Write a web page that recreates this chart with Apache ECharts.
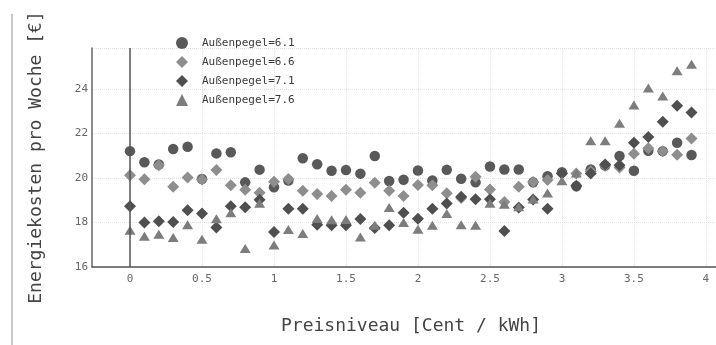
<!DOCTYPE html>
<html><head><meta charset="utf-8">
<script src="https://cdn.jsdelivr.net/npm/echarts@6/dist/echarts.min.js"></script>
<style>html,body{margin:0;padding:0;background:#fff}#c{width:716px;height:345px}</style>
</head><body><div id="c"></div>
<script>
const priceLevels = [0,0.1,0.2,0.3,0.4,0.5,0.6,0.7,0.8,0.9,1.0,1.1,1.2,1.3,1.4,1.5,1.6,1.7,1.8,1.9,2.0,2.1,2.2,2.3,2.4,2.5,2.6,2.7,2.8,2.9,3.0,3.1,3.2,3.3,3.4,3.5,3.6,3.7,3.8,3.9];
const seriesNames = ['Außenpegel=6.1','Außenpegel=6.6','Außenpegel=7.1','Außenpegel=7.6'];
const cost61 = [21.2,20.7,20.6,21.3,21.4,19.95,21.1,21.15,19.8,20.37,19.58,19.88,20.88,20.61,20.32,20.35,20.19,20.98,19.86,19.92,20.33,19.88,20.36,19.96,19.8,20.51,20.38,20.38,19.8,20.07,20.25,19.62,20.38,20.55,20.98,20.32,21.22,21.2,21.58,21.03];
const cost66 = [20.12,19.94,20.57,19.6,20.02,19.93,20.35,19.67,19.47,19.33,19.83,19.95,19.42,19.28,19.19,19.47,19.33,19.78,19.42,19.19,19.68,19.67,19.31,19.1,20.05,19.48,18.92,19.6,19.82,19.9,20.2,20.2,20.3,20.55,20.47,21.08,21.33,21.2,21.04,21.77];
const cost71 = [18.73,18.0,18.05,18.02,18.55,18.4,17.77,18.73,18.68,19.02,17.57,18.62,18.62,17.9,17.87,17.87,18.15,17.75,17.87,18.43,18.17,18.62,18.85,19.15,19.04,19.04,17.62,18.67,19.03,18.62,20.2,19.65,20.2,20.6,20.57,21.58,21.84,22.52,23.24,22.93];
const cost76 = [17.65,17.38,17.47,17.32,17.9,17.25,18.17,18.43,16.83,18.86,16.99,17.68,17.5,18.18,18.12,18.13,17.35,17.87,18.67,18.0,17.69,17.87,18.4,17.9,17.87,18.86,18.82,18.7,19.05,19.32,19.87,20.22,21.67,21.67,22.45,23.27,24.03,23.68,24.81,25.1];
const xTickValues = [0,0.5,1,1.5,2,2.5,3,3.5,4];
const yTickValues = [16,18,20,22,24];

const FONT = 'DejaVu Sans Mono';
const pairs = ys => priceLevels.map((x, i) => [x, ys[i]]);
const styles = [
  {symbol:'circle', size:10.5, color:'#595959'},
  {symbol:'diamond', size:12, color:'#8e8e8e'},
  {symbol:'diamond', size:12, color:'#4f4f4f'},
  {symbol:'triangle', size:[11,9], color:'#7d7d7d'}
];
const allData = [cost61, cost66, cost71, cost76];

const chart = echarts.init(document.getElementById('c'), null, {renderer:'canvas'});
const series = allData.map((d, i) => ({
  name: seriesNames[i],
  type: 'scatter',
  data: pairs(d),
  symbol: styles[i].symbol,
  symbolSize: styles[i].size,
  itemStyle: {color: styles[i].color, opacity: 1},
  emphasis: {disabled: true},
  animation: false
}));
series[0].markLine = {
  silent: true, symbol: ['none','none'], label: {show:false},
  lineStyle: {color:'#555', width:1.5, type:'solid'},
  data: [{xAxis: 0}], animation: false
};

chart.setOption({
  animation: false,
  backgroundColor: '#fff',
  grid: {left: 92, right: 0, top: 48, bottom: 78, containLabel: false},
  legend: {
    left: 171, top: 32, orient: 'vertical',
    itemWidth: 12, itemHeight: 12, itemGap: 7,
    data: seriesNames,
    textStyle: {fontFamily: FONT, fontSize: 11, color: '#3a3a3a', padding: [0,0,0,9]},
    selectedMode: false
  },
  xAxis: {
    type: 'value', min: -0.264, max: 4.07,
    name: 'Preisniveau [Cent / kWh]', nameLocation: 'middle', nameGap: 50,
    nameTextStyle: {fontFamily: FONT, fontSize: 18, color: '#444', padding: [0,0,0,14]},
    axisLine: {show: true, onZero: false, lineStyle: {color: '#555', width: 1.5}},
    axisTick: {show: false, customValues: xTickValues},
    axisLabel: {customValues: xTickValues, fontFamily: FONT, fontSize: 11, color: '#666', margin: 7},
    splitLine: {show: true, lineStyle: {color: '#e2e2e2', type: 'dotted', width: 1}}
  },
  yAxis: {
    type: 'value', min: 16, max: 25.83, interval: 2,
    name: 'Energiekosten pro Woche [€]', nameLocation: 'middle', nameGap: 47,
    nameTextStyle: {fontFamily: FONT, fontSize: 18, color: '#444'},
    axisLine: {show: true, onZero: false, lineStyle: {color: '#666', width: 1.5}},
    axisTick: {show: false},
    axisLabel: {fontFamily: FONT, fontSize: 11, color: '#666', margin: 4, showMaxLabel: false},
    splitLine: {show: true, lineStyle: {color: '#e2e2e2', type: 'dotted', width: 1}}
  },
  graphic: [{
    type: 'line', silent: true,
    shape: {x1: 12, y1: 14, x2: 12, y2: 345},
    style: {stroke: '#c8c8c8', lineWidth: 2}
  }],
  series: series
});
</script>
</body></html>
